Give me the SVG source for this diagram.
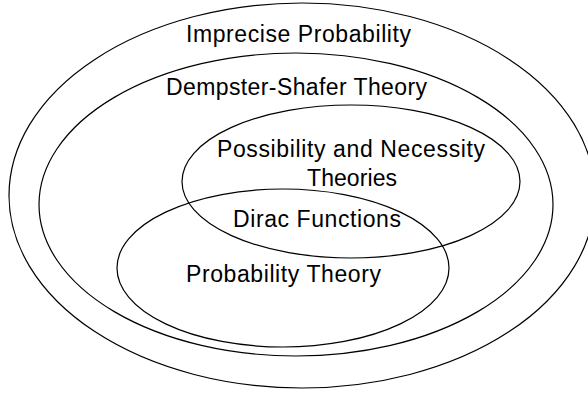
<svg xmlns="http://www.w3.org/2000/svg" width="588" height="394" viewBox="0 0 588 394">
<style>
.set{fill:none;stroke:#000;stroke-width:1.2}
.lbl{font-family:"Liberation Sans",Arial,Helvetica,sans-serif;font-size:23px;fill:#000}
</style>
<rect width="588" height="394" fill="#fff"/>
<g id="imprecise">
<ellipse class="set" cx="302" cy="195.5" rx="293" ry="192.5"/>
<text class="lbl" x="186" y="42" textLength="225" lengthAdjust="spacing">Imprecise Probability</text>
</g>
<g id="dempster">
<ellipse class="set" cx="296" cy="204.5" rx="257" ry="151.5"/>
<text class="lbl" x="166" y="95" textLength="261" lengthAdjust="spacing">Dempster-Shafer Theory</text>
</g>
<g id="possibility">
<ellipse class="set" cx="351" cy="181.5" rx="169" ry="76.5"/>
<text class="lbl" x="217" y="157" textLength="268" lengthAdjust="spacing">Possibility and Necessity</text>
<text class="lbl" x="307" y="186" textLength="90" lengthAdjust="spacing">Theories</text>
</g>
<g id="probability">
<ellipse class="set" cx="283" cy="268" rx="166" ry="79"/>
<text class="lbl" x="186" y="282" textLength="195" lengthAdjust="spacing">Probability Theory</text>
</g>
<g id="dirac">
<text class="lbl" x="233" y="227" textLength="168" lengthAdjust="spacing">Dirac Functions</text>
</g>
<g id="connectors"></g>
</svg>
